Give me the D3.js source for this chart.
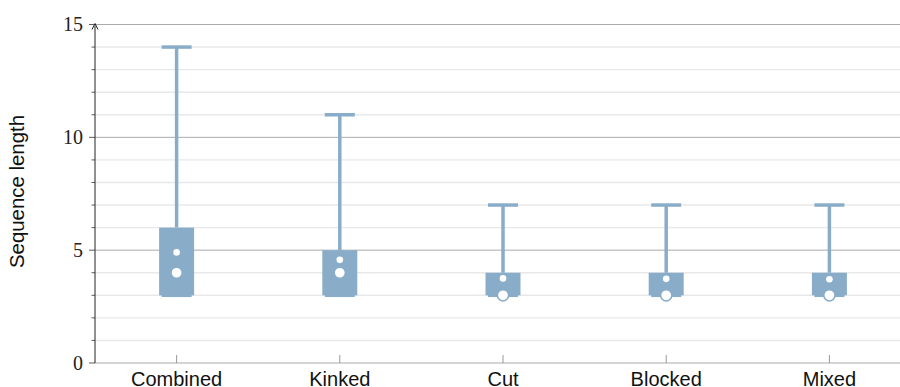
<!DOCTYPE html>
<html>
<head>
<meta charset="utf-8">
<script src="https://cdn.jsdelivr.net/npm/d3@7"></script>
<style>
  html, body { margin: 0; padding: 0; background: #fff; }
  svg { display: block; }
</style>
</head>
<body>
<svg id="chart" width="900" height="387"></svg>
<script>
// Box-plot summary per puzzle category
const categories = ["Combined", "Kinked", "Cut", "Blocked", "Mixed"];
const whiskerLow = [3, 3, 3, 3, 3];
const q1 = [3, 3, 3, 3, 3];
const medians = [4, 4, 3, 3, 3];
const q3 = [6, 5, 4, 4, 4];
const whiskerHigh = [14, 11, 7, 7, 7];
const means = [4.9, 4.57, 3.75, 3.73, 3.71];
const majorTicks = [0, 5, 10, 15];
const minorTicks = d3.range(0, 16);

const color = "#89adc9";
const svg = d3.select("#chart");

const x = d3.scaleBand().domain(categories).range([95, 911]);
const y = d3.scaleLinear().domain([0, 15]).range([363, 24.5]);
const xLeft = 95, xRight = 900;

// Grid: light lines at every unit, darker at every five
svg.append("g").selectAll("line").data(minorTicks.filter(v => v % 5 !== 0)).join("line")
  .attr("x1", xLeft).attr("x2", xRight)
  .attr("y1", d => y(d)).attr("y2", d => y(d))
  .attr("stroke", "#e8e8e8").attr("stroke-width", 1.4);
svg.append("g").selectAll("line").data(majorTicks).join("line")
  .attr("x1", xLeft).attr("x2", xRight)
  .attr("y1", d => y(d)).attr("y2", d => y(d))
  .attr("stroke", "#ababab").attr("stroke-width", 1);

// Category ticks rising from the baseline
svg.append("g").selectAll("line").data(categories).join("line")
  .attr("x1", d => x(d) + x.bandwidth() / 2).attr("x2", d => x(d) + x.bandwidth() / 2)
  .attr("y1", y(0)).attr("y2", y(0) - 8)
  .attr("stroke", "#999").attr("stroke-width", 1);

// Y axis with arrow
const yAxis = svg.append("g").attr("transform", `translate(${xLeft},0)`);
yAxis.append("line").attr("x1", 0).attr("x2", 0).attr("y1", y(0)).attr("y2", y(15) + 1)
  .attr("stroke", "#222").attr("stroke-width", 1);
yAxis.append("path").attr("d", `M-3,${y(15) + 5} L0,${y(15) - 1} L3,${y(15) + 5}`)
  .attr("fill", "none").attr("stroke", "#222").attr("stroke-width", 1);
yAxis.selectAll("line.minor").data(minorTicks.filter(v => v % 5 !== 0)).join("line")
  .attr("class", "minor").attr("x1", -3.5).attr("x2", 0)
  .attr("y1", d => y(d)).attr("y2", d => y(d)).attr("stroke", "#333").attr("stroke-width", 0.8);
yAxis.selectAll("line.major").data(majorTicks).join("line")
  .attr("class", "major").attr("x1", -6).attr("x2", 0)
  .attr("y1", d => y(d)).attr("y2", d => y(d)).attr("stroke", "#333").attr("stroke-width", 0.8);
yAxis.selectAll("text").data(majorTicks).join("text")
  .attr("x", -12).attr("y", d => y(d) + 6.5)
  .attr("text-anchor", "end")
  .attr("font-family", "'Liberation Serif', 'DejaVu Serif', serif")
  .attr("font-size", 20).attr("fill", "#222")
  .text(d => d);

// Y axis title
svg.append("text")
  .attr("transform", "translate(24,191.5) rotate(-90)")
  .attr("text-anchor", "middle")
  .attr("font-family", "'Liberation Sans', Arial, sans-serif")
  .attr("font-size", 21).attr("fill", "#111")
  .attr("textLength", 153).attr("lengthAdjust", "spacingAndGlyphs")
  .text("Sequence length");

// Category labels
svg.append("g").selectAll("text").data(categories).join("text")
  .attr("x", d => x(d) + x.bandwidth() / 2).attr("y", 386)
  .attr("text-anchor", "middle")
  .attr("font-family", "'Liberation Sans', Arial, sans-serif")
  .attr("font-size", 20).attr("fill", "#111")
  .text(d => d);

// Boxes
const boxW = 35, capW = 30;
const rows = categories.map((c, i) => ({
  c, lo: whiskerLow[i], q1: q1[i], med: medians[i], q3: q3[i], hi: whiskerHigh[i], mean: means[i]
}));
const g = svg.append("g").selectAll("g").data(rows).join("g")
  .attr("transform", d => `translate(${x(d.c) + x.bandwidth() / 2},0)`);

g.append("line").attr("x1", 0).attr("x2", 0)
  .attr("y1", d => y(d.q3)).attr("y2", d => y(d.hi))
  .attr("stroke", color).attr("stroke-width", 3.5);
g.append("line").attr("x1", 0).attr("x2", 0)
  .attr("y1", d => y(d.lo)).attr("y2", d => y(d.q1))
  .attr("stroke", color).attr("stroke-width", 3.5);
g.append("line").attr("x1", -capW / 2).attr("x2", capW / 2)
  .attr("y1", d => y(d.hi)).attr("y2", d => y(d.hi))
  .attr("stroke", color).attr("stroke-width", 3.5);
g.append("line").attr("x1", -capW / 2).attr("x2", capW / 2)
  .attr("y1", d => y(d.lo)).attr("y2", d => y(d.lo))
  .attr("stroke", color).attr("stroke-width", 3.5);
g.append("rect")
  .attr("x", -boxW / 2).attr("width", boxW)
  .attr("y", d => y(d.q3)).attr("height", d => y(d.q1) - y(d.q3))
  .attr("fill", color);
g.append("circle").attr("cx", 0).attr("cy", d => y(d.med)).attr("r", 5.6)
  .attr("fill", "#fff").attr("stroke", color).attr("stroke-width", 1.5);
g.append("circle").attr("cx", 0).attr("cy", d => y(d.mean)).attr("r", 3.3)
  .attr("fill", "#fff");
</script>
</body>
</html>
